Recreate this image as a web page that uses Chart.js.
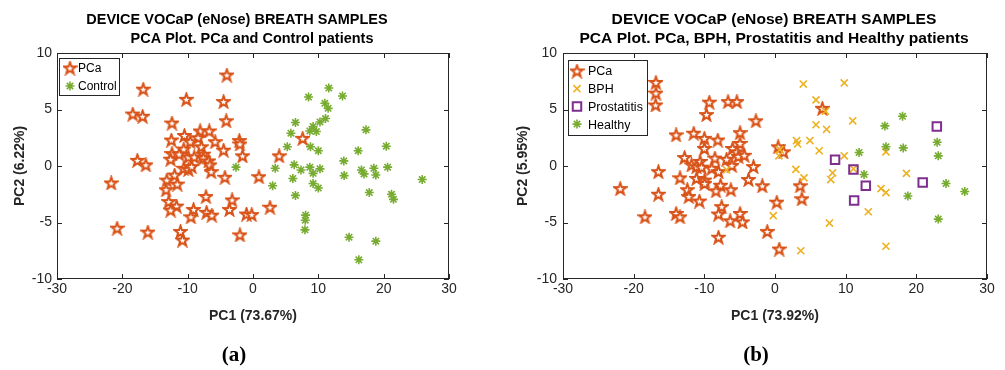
<!DOCTYPE html>
<html>
<head>
<meta charset="utf-8">
<script src="https://cdn.jsdelivr.net/npm/chart.js@4/dist/chart.umd.min.js"></script>
<style>
  html, body { margin: 0; padding: 0; background: #fff; }
  #wrap { position: relative; width: 1005px; height: 370px; overflow: hidden; }
  #chartA { position: absolute; left: 0; top: 0; }
  #chartB { position: absolute; left: 500px; top: 0; }
</style>
</head>
<body>
<div id="wrap">
  <canvas id="chartA" width="500" height="370"></canvas>
  <canvas id="chartB" width="505" height="370"></canvas>
</div>
<script>
// ---- data ----
const xTickValues = [-30, -20, -10, 0, 10, 20, 30];
const yTickValues = [-10, -5, 0, 5, 10];

// (a) PCa vs Control
const pcaAX = [-4.0, -16.8, -10.2, -4.5, -18.4, -16.9, -4.1, -12.4, -8.1, -6.7, -10.5, -8.4, -12.5, -9.6, -5.8, -2.1, -2.0, -7.9, -10.6, -4.5, -12.4, -11.3, -7.6, -1.6, -9.9, -9.0, -12.6, -7.6, -6.8, -17.7, -16.4, -6.6, -10.6, -9.9, -9.4, -6.4, -12.0, -4.3, 0.9, -21.7, -13.2, -11.6, -13.3, -7.2, -3.2, -12.9, -11.7, -12.6, -9.1, -3.6, -7.1, -6.3, -9.5, -1.0, -0.2, -20.8, -16.1, -11.1, -10.8, -2.0, 7.6, 4.0, 2.6];
const pcaAY = [8.05, 6.8, 5.9, 5.7, 4.6, 4.4, 4.0, 3.8, 3.1, 3.1, 2.7, 2.5, 2.3, 2.15, 2.15, 2.25, 1.95, 1.7, 1.5, 1.4, 1.1, 1.05, 1.05, 0.9, 0.8, 0.8, 0.6, 0.7, 0.45, 0.5, 0.1, 0.1, -0.2, -0.3, -0.05, -0.5, -0.8, -1.0, -0.95, -1.5, -1.25, -1.6, -2.1, -2.7, -3.0, -3.15, -3.55, -3.9, -3.85, -3.85, -4.1, -4.35, -4.5, -4.25, -4.3, -5.5, -5.85, -5.8, -6.55, -6.1, 2.45, 0.9, -3.65];
const controlX = [11.6, 8.5, 13.7, 11.0, 11.5, 11.1, 10.25, 6.5, 9.2, 8.7, 9.7, 5.8, 17.3, 5.25, 8.8, 10.0, 16.1, 20.4, 13.9, 6.3, 3.4, 7.35, 8.7, 10.25, 9.2, 20.6, 16.6, 17.0, 18.5, 18.8, 6.1, 13.95, 25.9, 3.0, 9.2, 10.0, 17.8, 6.5, 21.2, 21.5, 8.05, 8.0, 7.95, 14.7, 18.8, 16.2, -2.6];
const controlY = [6.9, 6.1, 6.2, 5.55, 5.1, 4.2, 3.9, 3.85, 3.5, 3.1, 3.05, 2.9, 3.2, 1.7, 1.7, 1.35, 1.35, 1.75, 0.45, 0.1, -0.2, -0.35, -0.1, -0.25, -0.65, -0.1, -0.35, -0.7, -0.2, -0.8, -1.1, -0.85, -1.2, -1.75, -1.55, -1.95, -2.35, -2.6, -2.5, -2.95, -4.35, -4.8, -5.65, -6.3, -6.65, -8.3, -0.1];

// (b) PCa, BPH, Prostatitis, Healthy
const pcaBX = [-16.85, -16.85, -16.9, -9.3, -6.65, -5.4, -9.7, -2.7, -14.0, -11.5, -10.0, -8.1, -4.95, -4.95, -10.0, -6.0, -5.4, -12.8, -8.5, -6.85, -5.2, -4.35, -10.6, -11.8, -11.1, -10.4, -8.95, -6.1, -3.05, -16.5, -8.0, -11.1, -13.45, -9.95, -3.75, -9.95, -7.7, -1.8, -21.9, -12.4, -8.35, -6.25, -16.5, -12.2, -10.7, -7.55, -8.0, -4.95, -14.0, -13.45, -18.4, -6.35, -4.6, -1.1, -8.0, 6.7, 0.45, 1.2, 3.55, 0.25, 3.8, 0.6];
const pcaBY = [7.4, 6.45, 5.4, 5.65, 5.7, 5.7, 4.55, 4.0, 2.75, 2.9, 2.45, 2.3, 2.95, 2.0, 1.55, 1.55, 1.25, 0.75, 0.7, 0.6, 0.85, 0.95, 0.4, 0.1, -0.05, -0.1, -0.2, 0.05, -0.05, -0.5, -0.5, -1.1, -1.05, -1.25, -1.2, -1.55, -1.7, -1.75, -2.0, -2.1, -2.2, -2.1, -2.5, -2.7, -3.1, -3.6, -4.25, -4.2, -4.2, -4.5, -4.5, -4.85, -4.95, -5.8, -6.3, 5.1, 1.7, 1.25, -1.75, -3.2, -2.9, -7.35];
const bphX = [4.0, 9.8, 5.8, 7.15, 11.0, 5.8, 7.3, 3.05, 3.2, 4.95, 0.7, 0.55, 6.25, 9.8, 15.7, 2.95, 4.1, 8.15, 7.9, 11.1, 18.6, 15.0, 15.7, -0.25, 7.7, 13.2, 3.65, 15.7, -6.85];
const bphY = [7.25, 7.35, 5.85, 4.85, 4.0, 3.65, 3.25, 2.25, 1.95, 2.25, 1.45, 0.9, 1.35, 0.9, 1.25, -0.3, -1.05, -0.6, -1.2, -0.25, -0.65, -2.0, -2.35, -4.4, -5.05, -4.05, -7.5, -7.1, -0.35];
const prostX = [8.5, 11.1, 12.85, 11.2, 20.9, 22.9];
const prostY = [0.55, -0.3, -1.75, -3.05, -1.45, 3.5];
const healthyX = [18.05, 15.55, 15.7, 18.15, 22.95, 23.1, 11.9, 12.6, 24.2, 26.85, 18.8, 23.1];
const healthyY = [4.4, 3.55, 1.7, 1.6, 2.1, 0.9, 1.2, -0.75, -1.55, -2.25, -2.65, -4.7];

// ---- colours (MATLAB default order) ----
const ORANGE = '#D95319';
const YELLOW = '#EDB120';
const PURPLE = '#7E2F8E';
const GREEN = '#77AC30';
const AXIS = '#262626';

Chart.defaults.font.family = "'Liberation Sans', Arial, sans-serif";
Chart.defaults.color = AXIS;

const toPoints = (xs, ys) => xs.map((x, i) => ({ x, y: ys[i] }));

// MATLAB 'p' marker: outlined pentagram
function makePentagram(color, size) {
  const c = document.createElement('canvas');
  c.width = size;
  c.height = size;
  const g = c.getContext('2d');
  const cx = size / 2, cy = size / 2 + 0.5;
  const R = size / 2 - 1.2, r = R * 0.4;
  g.beginPath();
  for (let i = 0; i < 10; i++) {
    const a = -Math.PI / 2 + i * Math.PI / 5;
    const rad = i % 2 ? r : R;
    g.lineTo(cx + rad * Math.cos(a), cy + rad * Math.sin(a));
  }
  g.closePath();
  g.fillStyle = '#fff';
  g.fill();
  g.lineWidth = 2;
  g.lineJoin = 'miter';
  g.strokeStyle = color;
  g.stroke();
  return c;
}
const starImg = makePentagram(ORANGE, 15);

const pcaStyle = { pointStyle: starImg, pointRadius: 7, borderColor: ORANGE, backgroundColor: '#fff', borderWidth: 2 };
const greenStyle = { pointStyle: 'star', pointRadius: 4.5, borderColor: GREEN, backgroundColor: GREEN, borderWidth: 1.6 };
const bphStyle = { pointStyle: 'crossRot', pointRadius: 5, borderColor: YELLOW, backgroundColor: YELLOW, borderWidth: 1.6 };
const prostStyle = { pointStyle: 'rect', pointRadius: 6, borderColor: PURPLE, backgroundColor: 'rgba(0,0,0,0)', borderWidth: 2 };

// frame, inward ticks, titles, legend box and panel caption
const panelPlugin = {
  id: 'panel',
  afterDraw(chart, args, opts) {
    const { ctx, chartArea: a, scales: { x, y } } = chart;
    ctx.save();
    ctx.strokeStyle = AXIS;
    ctx.lineWidth = 1;
    ctx.strokeRect(a.left + 0.5, a.top + 0.5, a.right - a.left - 1, a.bottom - a.top - 1);

    const tl = 5;
    ctx.beginPath();
    x.ticks.forEach(t => {
      const px = Math.round(x.getPixelForValue(t.value)) + 0.5;
      ctx.moveTo(px, a.bottom); ctx.lineTo(px, a.bottom - tl);
      ctx.moveTo(px, a.top); ctx.lineTo(px, a.top + tl);
    });
    y.ticks.forEach(t => {
      const py = Math.round(y.getPixelForValue(t.value)) + 0.5;
      ctx.moveTo(a.left, py); ctx.lineTo(a.left + tl, py);
      ctx.moveTo(a.right, py); ctx.lineTo(a.right - tl, py);
    });
    ctx.stroke();

    // two-line title
    ctx.fillStyle = '#000';
    ctx.font = "bold 15px 'Liberation Sans', Arial, sans-serif";
    ctx.textAlign = 'center';
    ctx.textBaseline = 'alphabetic';
    opts.title.forEach(line => {
      ctx.save();
      ctx.translate(line.cx, line.base);
      ctx.scale(opts.titleScale, 1);
      ctx.fillText(line.text, 0, 0);
      ctx.restore();
    });

    // legend
    const L = opts.legend;
    ctx.fillStyle = '#fff';
    ctx.fillRect(L.left, L.top, L.width, L.height);
    ctx.strokeStyle = AXIS;
    ctx.lineWidth = 1;
    ctx.strokeRect(L.left + 0.5, L.top + 0.5, L.width, L.height);
    chart.data.datasets.forEach((ds, i) => {
      const cy = L.firstRow + i * L.rowGap;
      ctx.strokeStyle = ds.borderColor;
      ctx.fillStyle = ds.backgroundColor;
      ctx.lineWidth = ds.borderWidth;
      Chart.helpers.drawPoint(ctx, { pointStyle: ds.pointStyle, rotation: 0, radius: ds.pointRadius, borderWidth: ds.borderWidth }, L.symbolX, cy);
      ctx.fillStyle = '#000';
      ctx.font = L.font;
      ctx.textAlign = 'left';
      ctx.textBaseline = 'middle';
      ctx.fillText(ds.label, L.textX, cy + 1);
    });

    // panel caption
    ctx.fillStyle = '#000';
    ctx.font = "bold 21px 'Liberation Serif', 'DejaVu Serif', serif";
    ctx.textAlign = 'center';
    ctx.textBaseline = 'middle';
    ctx.fillText(opts.caption.text, opts.caption.cx, opts.caption.cy);
    ctx.restore();
  }
};

function makeChart(id, datasets, cfg) {
  return new Chart(document.getElementById(id), {
    type: 'scatter',
    data: { datasets },
    options: {
      responsive: false,
      animation: false,
      events: [],
      layout: { padding: { top: 53, right: cfg.padRight, bottom: 0, left: 0 } },
      plugins: {
        legend: { display: false },
        tooltip: { enabled: false },
        panel: cfg.panel
      },
      scales: {
        x: {
          type: 'linear',
          min: -30,
          max: 30,
          afterBuildTicks(s) { s.ticks = xTickValues.map(v => ({ value: v })); },
          afterFit(s) { s.height = 91; },
          grid: { display: false, drawTicks: false },
          border: { display: false },
          ticks: { padding: 2, maxRotation: 0, color: AXIS, font: { size: 14 } },
          title: {
            display: true,
            text: cfg.xTitle,
            color: AXIS,
            font: { size: 14, weight: 'bold', lineHeight: 1 },
            padding: { top: 0, bottom: 47 }
          }
        },
        y: {
          type: 'linear',
          min: -10,
          max: 10,
          afterBuildTicks(s) { s.ticks = yTickValues.map(v => ({ value: v })); },
          afterFit(s) { s.width = cfg.yWidth; },
          grid: { display: false, drawTicks: false },
          border: { display: false },
          ticks: { padding: cfg.yTickPad, color: AXIS, font: { size: 14 } },
          title: {
            display: true,
            text: cfg.yTitle,
            color: AXIS,
            font: { size: 14, weight: 'bold', lineHeight: 1 },
            padding: { top: cfg.yTitlePad, bottom: 0 }
          }
        }
      }
    },
    plugins: [panelPlugin]
  });
}

makeChart('chartA', [
  { label: 'PCa', data: toPoints(pcaAX, pcaAY), order: 2, ...pcaStyle },
  { label: 'Control', data: toPoints(controlX, controlY), order: 1, ...greenStyle }
], {
  padRight: 51,
  yWidth: 57,
  yTickPad: 5,
  yTitlePad: 13,
  xTitle: 'PC1 (73.67%)',
  yTitle: 'PC2 (6.22%)',
  panel: {
    title: [
      { text: 'DEVICE VOCaP (eNose) BREATH SAMPLES', cx: 237, base: 24 },
      { text: 'PCA Plot. PCa and Control patients', cx: 252, base: 43 }
    ],
    titleScale: 0.965,
    legend: { left: 59, top: 58, width: 60, height: 37, firstRow: 68, rowGap: 18, symbolX: 70, textX: 78, font: "12px 'Liberation Sans', Arial, sans-serif" },
    caption: { text: '(a)', cx: 234, cy: 356 }
  }
});

makeChart('chartB', [
  { label: 'PCa', data: toPoints(pcaBX, pcaBY), order: 4, ...pcaStyle },
  { label: 'BPH', data: toPoints(bphX, bphY), order: 3, ...bphStyle },
  { label: 'Prostatitis', data: toPoints(prostX, prostY), order: 2, ...prostStyle },
  { label: 'Healthy', data: toPoints(healthyX, healthyY), order: 1, ...greenStyle }
], {
  padRight: 18,
  yWidth: 63,
  yTickPad: 6,
  yTitlePad: 16,
  xTitle: 'PC1 (73.92%)',
  yTitle: 'PC2 (5.95%)',
  panel: {
    title: [
      { text: 'DEVICE VOCaP (eNose) BREATH SAMPLES', cx: 274, base: 24 },
      { text: 'PCA Plot. PCa, BPH, Prostatitis and Healthy patients', cx: 274, base: 43 }
    ],
    titleScale: 1.04,
    legend: { left: 68, top: 60, width: 79, height: 75, firstRow: 71, rowGap: 17.7, symbolX: 77, textX: 88, font: "12.5px 'Liberation Sans', Arial, sans-serif" },
    caption: { text: '(b)', cx: 256, cy: 356 }
  }
});
</script>
</body>
</html>
